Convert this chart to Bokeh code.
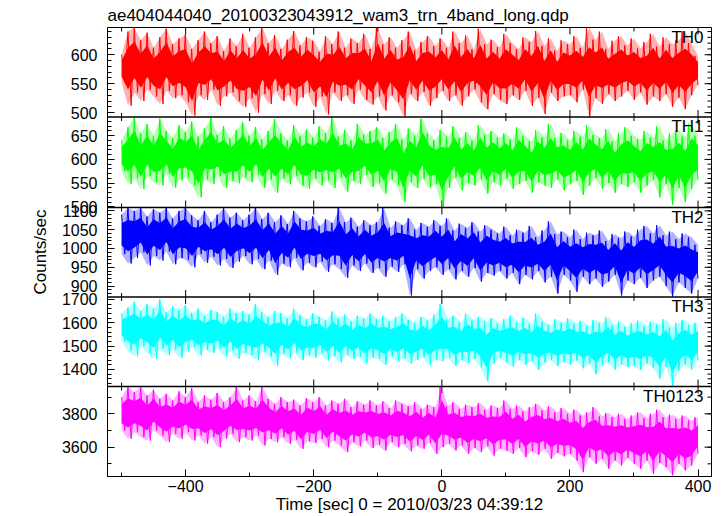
import numpy as np
from bokeh.plotting import figure
from bokeh.models import Range1d, SingleIntervalTicker, FixedTicker, Label, Span
from bokeh.embed import file_html
from bokeh.resources import INLINE

title_text = "ae404044040_20100323043912_wam3_trn_4band_long.qdp"
x_label = "Time [sec] 0 = 2010/03/23 04:39:12"
y_label = "Counts/sec"
bands = ["TH0", "TH1", "TH2", "TH3", "TH0123"]
colors = ["#ff0000", "#00ff00", "#0000ff", "#00ffff", "#ff00ff"]

# time bins (sec), 10 s apart
times = list(range(-500, 401, 10))

# upper / lower tips of the light curve in each 10 s bin (counts/sec)
th0_hi = [600, 640, 647, 625, 638, 612, 630, 645, 618, 628,
          635, 610, 625, 640, 620, 632, 606, 628, 615, 636,
          612, 630, 647, 620, 634, 610, 626, 641, 616, 630,
          624, 605, 632, 618, 640, 612, 628, 620, 636, 610,
          647, 618, 630, 612, 625, 640, 608, 622, 632, 615,
          628, 612, 640, 620, 633, 609, 645, 618, 626, 613,
          636, 620, 610, 630, 622, 641, 615, 628, 607, 625,
          618, 632, 612, 647, 626, 640, 610, 624, 632, 616,
          628, 611, 622, 636, 614, 630, 618, 625, 640, 620, 598]
th0_lo = [552, 512, 535, 520, 540, 528, 515, 538, 525, 530,
          518, 495, 530, 522, 540, 512, 528, 535, 520, 510,
          525, 500, 532, 515, 538, 520, 530, 512, 526, 535,
          510, 528, 497, 535, 520, 530, 515, 540, 522, 514,
          528, 504, 530, 518, 494, 532, 520, 536, 512, 525,
          538, 520, 530, 512, 528, 540, 518, 506, 532, 522,
          515, 530, 522, 538, 512, 526, 498, 535, 520, 528,
          530, 518, 540, 493, 525, 515, 532, 520, 528, 538,
          522, 535, 514, 528, 520, 532, 510, 526, 506, 530, 548]

th1_hi = [640, 668, 689, 655, 675, 650, 686, 660, 645, 672,
          658, 680, 648, 665, 689, 652, 670, 644, 662, 678,
          650, 668, 642, 660, 685, 655, 640, 672, 650, 663,
          646, 670, 655, 689, 648, 662, 640, 675, 652, 660,
          668, 645, 658, 675, 642, 665, 650, 686, 655, 640,
          662, 648, 670, 645, 658, 640, 672, 652, 660, 646,
          655, 642, 668, 650, 638, 662, 647, 675, 645, 656,
          640, 660, 648, 672, 652, 645, 664, 638, 655, 668,
          650, 642, 660, 646, 670, 640, 655, 662, 648, 675, 650]
th1_lo = [575, 548, 560, 538, 565, 552, 545, 570, 540, 556,
          562, 545, 520, 558, 548, 566, 540, 555, 550, 562,
          552, 568, 540, 558, 530, 560, 548, 565, 545, 538,
          560, 545, 556, 540, 562, 532, 555, 548, 568, 542,
          550, 528, 558, 545, 510, 552, 540, 560, 540, 548,
          500, 540, 562, 535, 550, 545, 558, 528, 552, 545,
          560, 538, 548, 555, 530, 552, 545, 540, 558, 535,
          548, 555, 525, 545, 560, 538, 550, 530, 548, 542,
          552, 530, 545, 556, 520, 548, 505, 540, 510, 538, 558]

th2_hi = [1090, 1108, 1100, 1108, 1085, 1105, 1095, 1108, 1080, 1100,
          1108, 1088, 1075, 1100, 1070, 1090, 1108, 1082, 1095, 1075,
          1090, 1108, 1078, 1095, 1070, 1088, 1065, 1100, 1080, 1072,
          1085, 1060, 1078, 1068, 1108, 1070, 1082, 1058, 1075, 1062,
          1070, 1108, 1055, 1072, 1062, 1080, 1050, 1068, 1058, 1075,
          1060, 1080, 1048, 1066, 1055, 1070, 1045, 1062, 1050, 1040,
          1058, 1035, 1050, 1042, 1060, 1030, 1048, 1072, 1038, 1045,
          1030, 1050, 1025, 1042, 1035, 1048, 1020, 1038, 1028, 1045,
          1032, 1050, 1060, 1040, 1062, 1035, 1045, 1025, 1040, 1030, 1010]
th2_lo = [985, 960, 975, 990, 955, 980, 968, 992, 958, 975,
          970, 950, 985, 962, 978, 955, 972, 948, 965, 980,
          958, 972, 945, 968, 930, 960, 950, 975, 942, 962,
          950, 965, 938, 958, 945, 922, 955, 940, 960, 935,
          948, 925, 952, 938, 958, 875, 945, 920, 940, 950,
          930, 945, 918, 940, 925, 948, 912, 935, 928, 940,
          920, 935, 905, 930, 918, 940, 910, 925, 880, 930,
          915, 885, 925, 905, 920, 898, 912, 930, 875, 915,
          905, 922, 895, 915, 925, 900, 872, 910, 895, 880, 920]

th3_hi = [1640, 1665, 1690, 1650, 1680, 1660, 1700, 1645, 1670, 1655,
          1675, 1640, 1660, 1630, 1655, 1645, 1625, 1660, 1640, 1650,
          1635, 1680, 1645, 1625, 1650, 1640, 1620, 1660, 1632, 1615,
          1640, 1625, 1610, 1648, 1620, 1635, 1605, 1630, 1618, 1640,
          1615, 1630, 1605, 1625, 1640, 1612, 1600, 1625, 1610, 1635,
          1680, 1615, 1630, 1600, 1640, 1610, 1625, 1605, 1620, 1598,
          1615, 1630, 1600, 1622, 1595, 1640, 1605, 1590, 1615, 1600,
          1620, 1595, 1608, 1585, 1612, 1598, 1625, 1590, 1605, 1582,
          1598, 1610, 1585, 1605, 1592, 1615, 1580, 1600, 1612, 1590, 1600]
th3_lo = [1520, 1480, 1455, 1500, 1470, 1445, 1490, 1462, 1485, 1450,
          1475, 1495, 1460, 1485, 1470, 1490, 1455, 1480, 1445, 1470,
          1462, 1440, 1475, 1455, 1415, 1468, 1448, 1472, 1440, 1460,
          1450, 1470, 1438, 1458, 1430, 1462, 1445, 1455, 1425, 1450,
          1445, 1420, 1455, 1432, 1448, 1425, 1440, 1452, 1418, 1442,
          1435, 1450, 1415, 1440, 1428, 1445, 1410, 1350, 1425, 1448,
          1430, 1412, 1440, 1420, 1435, 1398, 1428, 1440, 1415, 1432,
          1420, 1438, 1405, 1425, 1380, 1418, 1430, 1400, 1422, 1410,
          1415, 1398, 1425, 1405, 1360, 1412, 1330, 1395, 1420, 1400, 1440]

th0123_hi = [3900, 3962, 3930, 3962, 3910, 3945, 3890, 3920, 3880, 3935,
             3900, 3955, 3870, 3910, 3885, 3925, 3870, 3900, 3962, 3880,
             3910, 3875, 3962, 3890, 3860, 3900, 3870, 3885, 3850, 3895,
             3870, 3900, 3850, 3880, 3860, 3890, 3840, 3875, 3855, 3880,
             3850, 3875, 3835, 3880, 3860, 3845, 3870, 3830, 3855, 3840,
             3962, 3845, 3870, 3830, 3855, 3840, 3865, 3825, 3850, 3835,
             3880, 3830, 3850, 3815, 3840, 3860, 3820, 3845, 3810, 3835,
             3800, 3825, 3790, 3810, 3840, 3785, 3805, 3780, 3800, 3770,
             3790, 3810, 3775, 3800, 3825, 3780, 3795, 3770, 3790, 3760, 3780]
th0123_lo = [3700, 3650, 3690, 3660, 3640, 3700, 3670, 3630, 3680, 3650,
             3690, 3640, 3670, 3620, 3660, 3600, 3650, 3680, 3630, 3660,
             3640, 3670, 3610, 3650, 3630, 3660, 3620, 3645, 3590, 3635,
             3625, 3650, 3600, 3640, 3610, 3570, 3630, 3605, 3640, 3595,
             3615, 3580, 3630, 3600, 3620, 3575, 3610, 3590, 3625, 3560,
             3600, 3620, 3580, 3610, 3560, 3595, 3570, 3605, 3550, 3590,
             3580, 3560, 3595, 3540, 3575, 3555, 3590, 3530, 3565, 3545,
             3560, 3520, 3450, 3540, 3500, 3530, 3470, 3520, 3490, 3535,
             3500, 3470, 3520, 3440, 3505, 3480, 3430, 3500, 3460, 3490, 3560]

series_hi = [th0_hi, th1_hi, th2_hi, th3_hi, th0123_hi]
series_lo = [th0_lo, th1_lo, th2_lo, th3_lo, th0123_lo]

# axes
x_limits = (-522, 421)
x_major_ticks = [-400, -200, 0, 200, 400]
x_minor_ticks = [-500, -300, -100, 100, 300]
y_limits = [(492.5, 647), (498.7, 689.5), (871, 1109), (1327, 1710), (3424, 3964)]
y_major_ticks = [[500, 550, 600],
                 [500, 550, 600, 650],
                 [900, 950, 1000, 1050, 1100],
                 [1400, 1500, 1600, 1700],
                 [3600, 3800]]
y_minor_step = [10, 10, 10, 20, 100]

FONT = "Liberation Sans"
FRAME_H = 449
# vertical slot (in frame pixels from the bottom) occupied by each panel
slots = [(359.5, 449), (269, 359.5), (179.5, 269), (90, 179.5), (0, 90)]

p = figure(width=715, height=516, x_range=Range1d(*x_limits), y_range=Range1d(0, FRAME_H),
           output_backend="svg", toolbar_location=None,
           min_border=0, min_border_left=107, min_border_right=4,
           min_border_top=27, min_border_bottom=40,
           background_fill_color="white", border_fill_color="white",
           outline_line_color="black", outline_line_width=1, title=title_text)
p.grid.visible = False
p.title.text_font = FONT
p.title.text_font_size = "17px"
p.title.text_font_style = "normal"
p.title.text_color = "black"
p.title.align = "left"
p.title.standoff = 5
p.title.offset = 0

xa = p.xaxis[0]
xa.ticker = SingleIntervalTicker(interval=200, num_minor_ticks=2)
xa.major_tick_in = 7
xa.major_tick_out = 0
xa.minor_tick_in = 4
xa.minor_tick_out = 0
xa.axis_line_color = "black"
xa.major_label_text_font = FONT
xa.major_label_text_font_size = "16px"
xa.major_label_text_color = "black"
xa.major_label_standoff = 3
xa.axis_label = x_label
xa.axis_label_text_font = FONT
xa.axis_label_text_font_size = "17px"
xa.axis_label_text_font_style = "normal"
xa.axis_label_text_color = "black"
xa.axis_label_standoff = 0

# ticks on panel edges drawn as short screen-length rays
top_x, top_y, bot_x, bot_y, top_len, bot_len = [], [], [], [], [], []
for (b, t) in slots:
    for xt, ln in [(v, 7) for v in x_major_ticks] + [(v, 4) for v in x_minor_ticks]:
        top_x.append(xt); top_y.append(t); top_len.append(ln)
        if b > 0:
            bot_x.append(xt); bot_y.append(b); bot_len.append(ln)
p.ray(x=top_x, y=top_y, length=top_len, angle=-np.pi / 2, length_units="screen",
      line_color="black", line_width=1)
p.ray(x=bot_x, y=bot_y, length=bot_len, angle=np.pi / 2, length_units="screen",
      line_color="black", line_width=1)

left_major, left_minor, overrides = [], [], {}
for i in range(len(bands)):
    name = bands[i]
    b, t = slots[i]
    lo_lim, hi_lim = y_limits[i]
    s = (hi_lim - lo_lim) / (t - b)
    p.extra_y_ranges[name] = Range1d(lo_lim - b * s, hi_lim + (FRAME_H - t) * s)

    minor = [float(v) for v in np.arange(np.ceil(lo_lim / y_minor_step[i]) * y_minor_step[i],
                                          hi_lim, y_minor_step[i])]
    # left axis tick positions of this panel on the shared frame scale
    for v in y_major_ticks[i]:
        pos = round(b + (v - lo_lim) / s, 4)
        left_major.append(pos)
        overrides[pos] = str(v)
    for v in minor:
        left_minor.append(round(b + (v - lo_lim) / s, 4))

    # right-hand ticks
    rv = list(y_major_ticks[i]) + minor
    rl = [7] * len(y_major_ticks[i]) + [4] * len(minor)
    p.ray(x=[x_limits[1]] * len(rv), y=rv, length=rl, angle=np.pi, length_units="screen",
          line_color="black", line_width=1, y_range_name=name)

    hi = np.array(series_hi[i], dtype=float)
    lo = np.array(series_lo[i], dtype=float)
    tt = np.array(times, dtype=float)
    c = colors[i]
    p.varea(x=tt, y1=lo, y2=hi, fill_color=c, fill_alpha=0.3, y_range_name=name)
    p.varea(x=tt, y1=lo + 0.22 * (hi - lo), y2=hi - 0.22 * (hi - lo), fill_color=c,
            fill_alpha=1.0, y_range_name=name)
    zx = np.linspace(times[0], times[-1], 2 * len(times))
    zy = np.empty(2 * len(times))
    zy[0::2] = hi
    zy[1::2] = lo
    p.line(zx, zy, line_color=c, line_width=1, y_range_name=name)

    p.add_layout(Label(x=x_limits[1], y=hi_lim, x_offset=-8, y_offset=0, y_range_name=name,
                       text=name, text_align="right", text_baseline="top",
                       text_font=FONT, text_font_size="17px", text_color="black"))

ya = p.yaxis[0]
ya.ticker = FixedTicker(ticks=left_major, minor_ticks=left_minor)
ya.major_label_overrides = overrides
ya.axis_line_color = "black"
ya.major_tick_in = 7
ya.major_tick_out = 0
ya.minor_tick_in = 4
ya.minor_tick_out = 0
ya.major_label_text_font = FONT
ya.major_label_text_font_size = "16px"
ya.major_label_text_color = "black"
ya.major_label_standoff = 10
ya.axis_label = y_label
ya.axis_label_text_font = FONT
ya.axis_label_text_font_size = "17px"
ya.axis_label_text_font_style = "normal"
ya.axis_label_text_color = "black"
ya.axis_label_standoff = 9

for (b, t) in slots[:-1]:
    p.add_layout(Span(location=b, dimension="width", line_color="black", line_width=1.5))

open("out.html", "w").write(file_html(p, INLINE))
